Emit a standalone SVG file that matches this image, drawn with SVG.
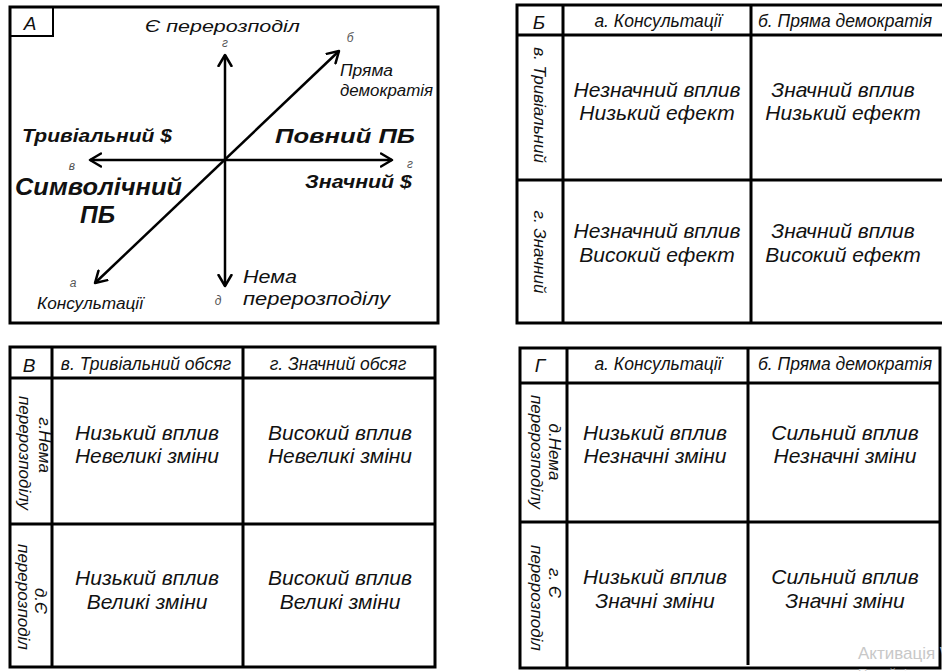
<svg xmlns="http://www.w3.org/2000/svg" width="942" height="671" viewBox="0 0 942 671">
<style>
.bg{fill:#fff}
.b{fill:none;stroke:#000;stroke-width:3}
.thin{fill:none;stroke:#000;stroke-width:2}
.ax{fill:none;stroke:#000;stroke-width:2.5;marker-start:url(#chev);marker-end:url(#chev)}
.t{font-family:"Liberation Sans",Arial,sans-serif;font-style:italic;fill:#111}
.bo{font-weight:bold}
.cell{font-size:21px;text-anchor:middle}
.hdr{font-size:17.5px;text-anchor:middle}
.side{font-size:17px;text-anchor:middle}
.lab{font-size:19px;text-anchor:middle}
.sm{font-size:12px;fill:#555;text-anchor:middle}
.wm{font-family:"Liberation Sans",Arial,sans-serif;fill:#c8c8c8}
</style>
<defs>
<marker id="chev" viewBox="0 0 14 16" refX="12" refY="8" markerWidth="14" markerHeight="16" markerUnits="userSpaceOnUse" orient="auto-start-reverse">
<path d="M1,1.5 L12,8 L1,14.5" fill="none" stroke="#000" stroke-width="2.5" stroke-linecap="round" stroke-linejoin="round"/>
</marker>
</defs>
<rect class="bg" x="0" y="0" width="942" height="671"/>

<!-- Panel A -->
<g id="panelA">
<rect class="b" x="10" y="7" width="428" height="316"/>
<rect class="thin" x="10" y="7" width="43" height="29"/>
<text class="t lab" x="30" y="30">А</text>
<text class="t" x="145" y="32" font-size="17" textLength="155" lengthAdjust="spacingAndGlyphs">Є перерозподіл</text>
<text class="t sm" x="225" y="47">г</text>
<text class="t sm" x="350" y="42">б</text>
<text class="t" x="340" y="76" font-size="16" textLength="53" lengthAdjust="spacingAndGlyphs">Пряма</text>
<text class="t" x="340" y="96" font-size="16" textLength="93" lengthAdjust="spacingAndGlyphs">демократія</text>
<text class="t bo" x="275" y="143" font-size="21" textLength="140" lengthAdjust="spacingAndGlyphs">Повний ПБ</text>
<text class="t bo" x="22" y="142" font-size="19" textLength="150" lengthAdjust="spacingAndGlyphs">Тривіальний $</text>
<text class="t sm" x="72" y="170">в</text>
<text class="t sm" x="410" y="168">г</text>
<text class="t bo" x="15" y="195" font-size="23" textLength="167" lengthAdjust="spacingAndGlyphs">Символічний</text>
<text class="t bo" x="80" y="223" font-size="23" textLength="35" lengthAdjust="spacingAndGlyphs">ПБ</text>
<text class="t bo" x="305" y="188" font-size="19" textLength="107" lengthAdjust="spacingAndGlyphs">Значний $</text>
<text class="t sm" x="73" y="287">а</text>
<text class="t" x="37" y="309" font-size="16" textLength="106" lengthAdjust="spacingAndGlyphs">Консультації</text>
<text class="t sm" x="218" y="305">д</text>
<text class="t" x="243" y="283" font-size="18.5" textLength="54" lengthAdjust="spacingAndGlyphs">Нема</text>
<text class="t" x="243" y="305" font-size="18.5" textLength="147" lengthAdjust="spacingAndGlyphs">перерозподілу</text>
</g>

<g id="connectors">
<line class="ax" x1="225" y1="55" x2="225" y2="286"/>
<line class="ax" x1="90" y1="160" x2="392" y2="160"/>
<line class="ax" x1="95" y1="283" x2="339" y2="51"/>
</g>

<!-- Panel Б -->
<g id="panelB">
<rect class="b" x="517" y="5" width="440" height="318"/>
<line class="b" x1="517" y1="35" x2="942" y2="35"/>
<line class="b" x1="517" y1="180" x2="942" y2="180"/>
<line class="b" x1="563" y1="5" x2="563" y2="323"/>
<line class="b" x1="751" y1="5" x2="751" y2="323"/>
<text class="t lab" x="539" y="29">Б</text>
<text class="t hdr" x="658" y="27">а. Консультації</text>
<text class="t hdr" x="845" y="27">б. Пряма демократія</text>
<g id="B-r1"><text class="t side" transform="translate(534,105) rotate(90)">в. Тривіальний</text></g>
<g id="B-r2"><text class="t side" transform="translate(534,252) rotate(90)">г. Значний</text></g>
<g id="B-c11"><text class="t cell" x="657" y="97">Незначний вплив</text><text class="t cell" x="657" y="120">Низький ефект</text></g>
<g id="B-c12"><text class="t cell" x="843" y="97">Значний вплив</text><text class="t cell" x="843" y="120">Низький ефект</text></g>
<g id="B-c21"><text class="t cell" x="657" y="238">Незначний вплив</text><text class="t cell" x="657" y="262">Високий ефект</text></g>
<g id="B-c22"><text class="t cell" x="843" y="238">Значний вплив</text><text class="t cell" x="843" y="262">Високий ефект</text></g>
</g>

<!-- Panel В -->
<g id="panelV">
<rect class="b" x="10" y="347" width="425" height="320"/>
<line class="b" x1="10" y1="378" x2="435" y2="378"/>
<line class="b" x1="10" y1="524" x2="435" y2="524"/>
<line class="b" x1="52" y1="347" x2="52" y2="667"/>
<line class="b" x1="243" y1="347" x2="243" y2="667"/>
<text class="t lab" x="29" y="372">В</text>
<text class="t hdr" x="146" y="370">в. Тривіальний обсяг</text>
<text class="t hdr" x="338" y="370">г. Значний обсяг</text>
<g id="V-r1"><text class="t side" transform="translate(39,445) rotate(90)">г.Нема</text><text class="t side" transform="translate(19,453) rotate(90)">перерозподілу</text></g>
<g id="V-r2"><text class="t side" transform="translate(35,601) rotate(90)">д.Є</text><text class="t side" transform="translate(18,597) rotate(90)">перерозподіл</text></g>
<g id="V-c11"><text class="t cell" x="147" y="440">Низький вплив</text><text class="t cell" x="147" y="463">Невеликі зміни</text></g>
<g id="V-c12"><text class="t cell" x="340" y="440">Високий вплив</text><text class="t cell" x="340" y="463">Невеликі зміни</text></g>
<g id="V-c21"><text class="t cell" x="147" y="585">Низький вплив</text><text class="t cell" x="147" y="609">Великі зміни</text></g>
<g id="V-c22"><text class="t cell" x="340" y="585">Високий вплив</text><text class="t cell" x="340" y="609">Великі зміни</text></g>
</g>

<!-- Panel Г -->
<g id="panelG">
<rect class="b" x="520" y="348" width="420" height="320"/>
<line class="b" x1="520" y1="383" x2="940" y2="383"/>
<line class="b" x1="520" y1="522" x2="940" y2="522"/>
<line class="b" x1="567" y1="348" x2="567" y2="668"/>
<line class="b" x1="748" y1="348" x2="748" y2="665"/>
<text class="t lab" x="540" y="372">Г</text>
<text class="t hdr" x="658" y="370">а. Консультації</text>
<text class="t hdr" x="845" y="370">б. Пряма демократія</text>
<g id="G-r1"><text class="t side" transform="translate(549,452) rotate(90)">д.Нема</text><text class="t side" transform="translate(531,452) rotate(90)">перерозподілу</text></g>
<g id="G-r2"><text class="t side" transform="translate(549,583) rotate(90)">г. Є</text><text class="t side" transform="translate(531,598) rotate(90)">перерозподіл</text></g>
<g id="G-c11"><text class="t cell" x="655" y="440">Низький вплив</text><text class="t cell" x="655" y="463">Незначні зміни</text></g>
<g id="G-c12"><text class="t cell" x="845" y="440">Сильний вплив</text><text class="t cell" x="845" y="463">Незначні зміни</text></g>
<g id="G-c21"><text class="t cell" x="655" y="584">Низький вплив</text><text class="t cell" x="655" y="608">Значні зміни</text></g>
<g id="G-c22"><text class="t cell" x="845" y="584">Сильний вплив</text><text class="t cell" x="845" y="608">Значні зміни</text></g>
</g>

<g id="watermark">
<text class="wm" x="858" y="659" font-size="17">Активація Windows</text>
<text class="wm" x="858" y="678" font-size="13">Перейдіть до розділу</text>
</g>
</svg>
